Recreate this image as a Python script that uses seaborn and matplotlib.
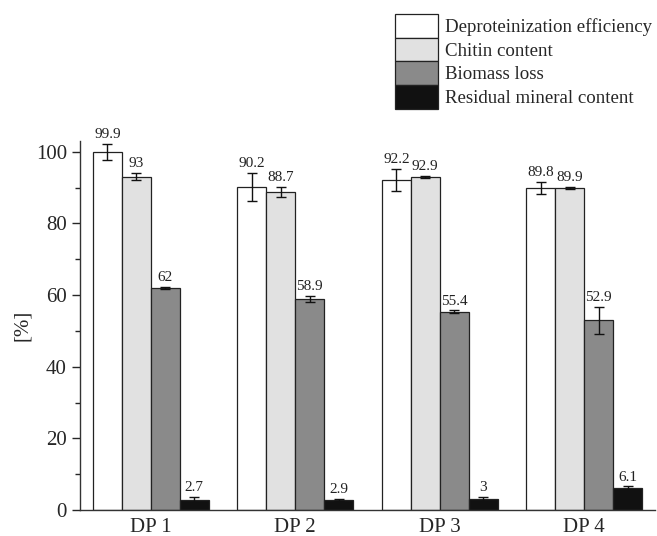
import matplotlib
matplotlib.use("Agg")
import matplotlib.pyplot as plt
import seaborn as sns
import pandas as pd
import numpy as np
from matplotlib.ticker import MultipleLocator

groups = ["DP 1", "DP 2", "DP 3", "DP 4"]
series = ["Deproteinization efficiency", "Chitin content", "Biomass loss", "Residual mineral content"]
deprot = [99.9, 90.2, 92.2, 89.8]
chitin = [93.0, 88.7, 92.9, 89.9]
biomass = [62.0, 58.9, 55.4, 52.9]
mineral = [2.7, 2.9, 3.0, 6.1]
deprot_err = [2.3, 4.0, 3.1, 1.7]
chitin_err = [1.0, 1.4, 0.3, 0.3]
biomass_err = [0.3, 0.8, 0.3, 3.8]
mineral_err = [0.9, 0.3, 0.7, 0.5]
labels_txt = [["99.9", "90.2", "92.2", "89.8"],
              ["93", "88.7", "92.9", "89.9"],
              ["62", "58.9", "55.4", "52.9"],
              ["2.7", "2.9", "3", "6.1"]]
colors = ["#ffffff", "#e1e1e1", "#8a8a8a", "#111111"]

values = [deprot, chitin, biomass, mineral]
errs = [deprot_err, chitin_err, biomass_err, mineral_err]

rows = []
for s, vals in zip(series, values):
    for g, v in zip(groups, vals):
        rows.append({"group": g, "series": s, "value": v})
df = pd.DataFrame(rows)

sns.set_style("ticks")
plt.rcParams["font.family"] = ["Liberation Serif", "DejaVu Serif"]

fig = plt.figure(figsize=(6.57, 5.36), dpi=100)
ax = fig.add_axes([80/657, 1-510/536, 575/657, (510-141)/536])

sns.barplot(data=df, x="group", y="value", hue="series", order=groups,
            hue_order=series, palette=colors, errorbar=None, width=0.8,
            edgecolor="#222222", linewidth=0.9, saturation=1, ax=ax, legend=True)

bar_conts = list(ax.containers)
for ci, cont in enumerate(bar_conts):
    for pi, patch in enumerate(cont.patches):
        xc = patch.get_x() + patch.get_width() / 2
        v = values[ci][pi]
        e = errs[ci][pi]
        ax.errorbar(xc, v, yerr=e, color="#111111", capsize=3.6, elinewidth=1.0,
                    capthick=1.0, fmt="none", zorder=5)
        ax.annotate(labels_txt[ci][pi], (xc, v + e), xytext=(0, 2),
                    textcoords="offset points", ha="center", va="bottom",
                    fontsize=11, color="#222222")

ax.set_ylim(0, 103)
ax.set_xlim(-0.49, 3.49)
ax.yaxis.set_major_locator(MultipleLocator(20))
ax.yaxis.set_minor_locator(MultipleLocator(10))
ax.tick_params(axis="y", which="major", length=6, width=1, labelsize=15, direction="out")
ax.tick_params(axis="y", which="minor", length=3.5, width=1, direction="out")
ax.tick_params(axis="x", length=0, labelsize=15, pad=6)
ax.set_xlabel("")
ax.set_ylabel("[%]", fontsize=15, labelpad=3)
for sp in ["top", "right"]:
    ax.spines[sp].set_visible(False)
for sp in ["left", "bottom"]:
    ax.spines[sp].set_color("#333333")
    ax.spines[sp].set_linewidth(1.0)

handles, labs = ax.get_legend_handles_labels()
ax.legend(handles, labs, loc="upper left", bbox_to_anchor=(395/657, 1-14/536),
          bbox_transform=fig.transFigure, frameon=False, fontsize=13.6,
          handlelength=2.25, handleheight=1.55, labelspacing=0.0,
          handletextpad=0.4, borderpad=0, borderaxespad=0)

fig.savefig("out.png", dpi=100)
